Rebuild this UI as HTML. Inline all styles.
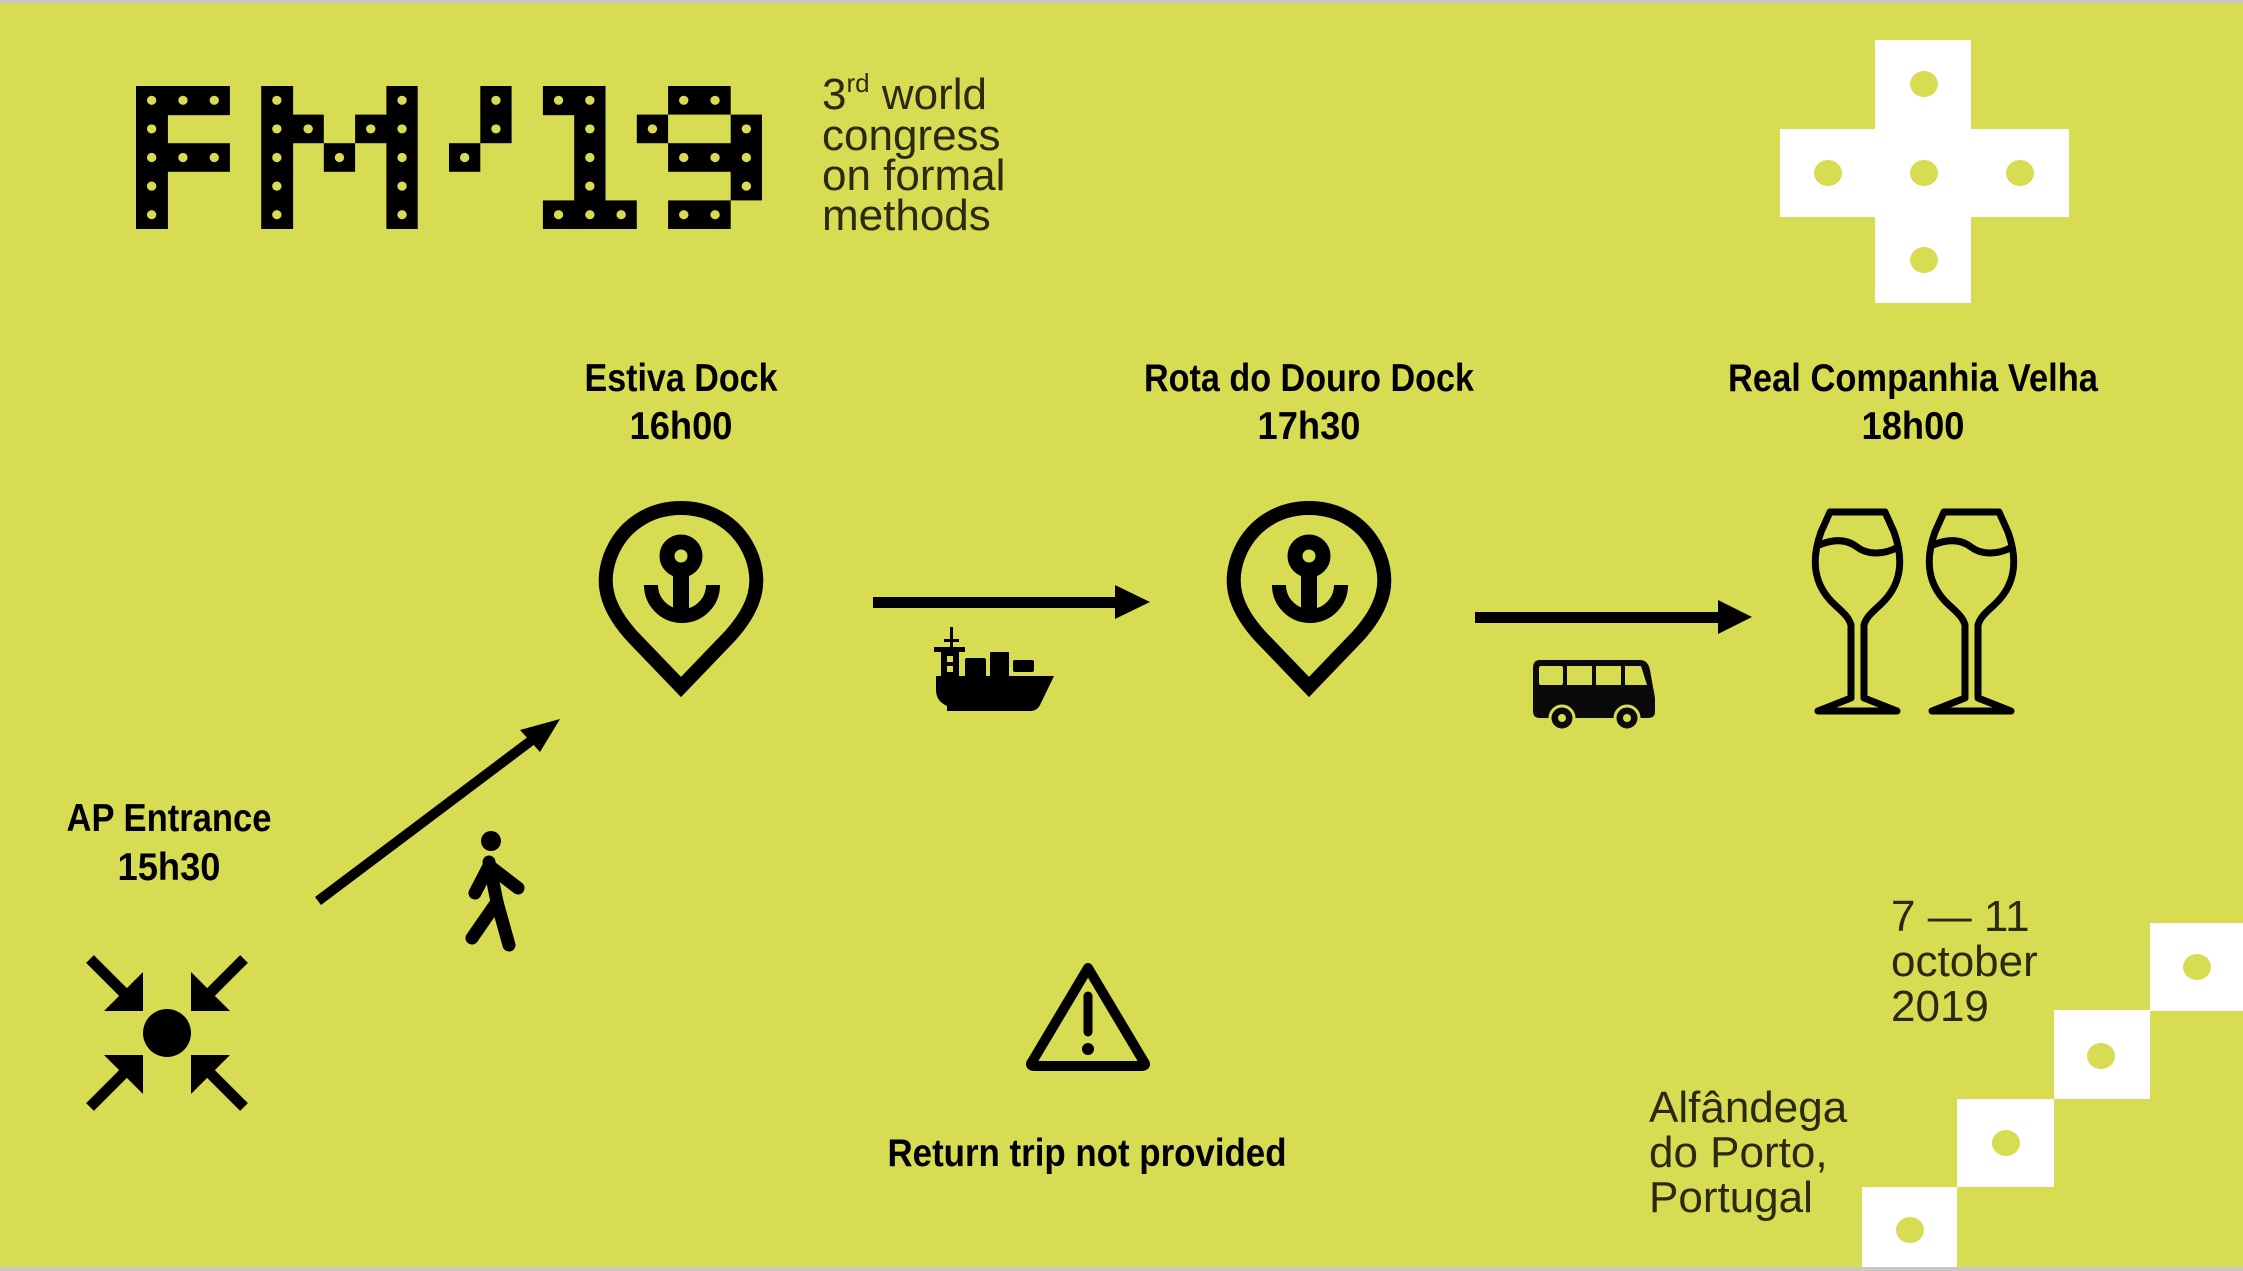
<!DOCTYPE html>
<html><head><meta charset="utf-8"><style>
html,body{margin:0;padding:0;}
body{width:2243px;height:1271px;overflow:hidden;background:#d8dc52;}
svg{display:block;}
.h{font-family:"Liberation Sans Narrow","Liberation Sans",sans-serif;font-weight:bold;font-size:39px;fill:#000;text-anchor:middle;}
.r{font-family:"Liberation Sans",sans-serif;font-size:44px;fill:#2a2a10;}
</style></head><body>
<svg width="2243" height="1271" viewBox="0 0 2243 1271" xmlns="http://www.w3.org/2000/svg">
<rect width="2243" height="1271" fill="#d8dc52"/>
<rect width="2243" height="3" fill="#c8c8c0"/>
<rect y="1267" width="2243" height="4" fill="#c8c8c0"/>

<!-- logo -->
<g transform="translate(136,86) scale(31.3,28.6)" fill="#000">
<g>
<rect x="0" y="0" width="1.02" height="5"/><rect x="0" y="0" width="3" height="1.02"/><rect x="0" y="2" width="3" height="1"/>
<rect x="4" y="0" width="1.02" height="5"/><rect x="8" y="0" width="1" height="5"/><rect x="5" y="1" width="1" height="1"/><rect x="7" y="1" width="1.02" height="1"/><rect x="6" y="2" width="1" height="1"/>
<rect x="11" y="0" width="1" height="2"/><rect x="10" y="2" width="1" height="1"/>
<rect x="13" y="0" width="2" height="1.02"/><rect x="14" y="0" width="1" height="5"/><rect x="13" y="4" width="3" height="1"/>
<rect x="17" y="0" width="2" height="1"/><rect x="16" y="1" width="1" height="1"/><rect x="19" y="1" width="1" height="3"/><rect x="17" y="2" width="3" height="1"/><rect x="17" y="4" width="2" height="1"/>
</g>
<g fill="#d8dc52">
<ellipse cx=".5" cy=".5" rx=".15" ry=".16"/><ellipse cx="1.5" cy=".5" rx=".15" ry=".16"/><ellipse cx="2.5" cy=".5" rx=".15" ry=".16"/>
<ellipse cx=".5" cy="1.5" rx=".15" ry=".16"/><ellipse cx=".5" cy="2.5" rx=".15" ry=".16"/><ellipse cx="1.5" cy="2.5" rx=".15" ry=".16"/><ellipse cx="2.5" cy="2.5" rx=".15" ry=".16"/><ellipse cx=".5" cy="3.5" rx=".15" ry=".16"/><ellipse cx=".5" cy="4.5" rx=".15" ry=".16"/>
<ellipse cx="4.5" cy=".5" rx=".15" ry=".16"/><ellipse cx="4.5" cy="1.5" rx=".15" ry=".16"/><ellipse cx="4.5" cy="2.5" rx=".15" ry=".16"/><ellipse cx="4.5" cy="3.5" rx=".15" ry=".16"/><ellipse cx="4.5" cy="4.5" rx=".15" ry=".16"/>
<ellipse cx="8.5" cy=".5" rx=".15" ry=".16"/><ellipse cx="8.5" cy="1.5" rx=".15" ry=".16"/><ellipse cx="8.5" cy="2.5" rx=".15" ry=".16"/><ellipse cx="8.5" cy="3.5" rx=".15" ry=".16"/><ellipse cx="8.5" cy="4.5" rx=".15" ry=".16"/>
<ellipse cx="5.5" cy="1.5" rx=".15" ry=".16"/><ellipse cx="7.5" cy="1.5" rx=".15" ry=".16"/><ellipse cx="6.5" cy="2.5" rx=".15" ry=".16"/>
<ellipse cx="11.5" cy=".5" rx=".15" ry=".16"/><ellipse cx="11.5" cy="1.5" rx=".15" ry=".16"/><ellipse cx="10.5" cy="2.5" rx=".15" ry=".16"/>
<ellipse cx="13.5" cy=".5" rx=".15" ry=".16"/><ellipse cx="14.5" cy=".5" rx=".15" ry=".16"/><ellipse cx="14.5" cy="1.5" rx=".15" ry=".16"/><ellipse cx="14.5" cy="2.5" rx=".15" ry=".16"/><ellipse cx="14.5" cy="3.5" rx=".15" ry=".16"/><ellipse cx="14.5" cy="4.5" rx=".15" ry=".16"/><ellipse cx="13.5" cy="4.5" rx=".15" ry=".16"/><ellipse cx="15.5" cy="4.5" rx=".15" ry=".16"/>
<ellipse cx="17.5" cy=".5" rx=".15" ry=".16"/><ellipse cx="18.5" cy=".5" rx=".15" ry=".16"/><ellipse cx="16.5" cy="1.5" rx=".15" ry=".16"/><ellipse cx="19.5" cy="1.5" rx=".15" ry=".16"/><ellipse cx="17.5" cy="2.5" rx=".15" ry=".16"/><ellipse cx="18.5" cy="2.5" rx=".15" ry=".16"/><ellipse cx="19.5" cy="2.5" rx=".15" ry=".16"/><ellipse cx="19.5" cy="3.5" rx=".15" ry=".16"/><ellipse cx="17.5" cy="4.5" rx=".15" ry=".16"/><ellipse cx="18.5" cy="4.5" rx=".15" ry=".16"/>
</g>
</g>
<text class="r" x="822" y="109">3<tspan font-size="26" dy="-17">rd</tspan><tspan dy="17"> world</tspan></text>
<text class="r" x="822" y="150">congress</text>
<text class="r" x="822" y="190">on formal</text>
<text class="r" x="822" y="230">methods</text>

<!-- top-right cross -->
<g fill="#fff"><rect x="1875" y="40" width="96" height="263"/><rect x="1780" y="129" width="289" height="88"/></g>
<g fill="#d8dc52"><ellipse cx="1924" cy="84" rx="14" ry="13"/><ellipse cx="1828" cy="173" rx="14" ry="13"/><ellipse cx="1924" cy="173" rx="14" ry="13"/><ellipse cx="2020" cy="173" rx="14" ry="13"/><ellipse cx="1924" cy="260" rx="14" ry="13"/></g>

<!-- bottom-right steps -->
<g fill="#fff"><rect x="2150" y="923" width="93" height="88"/><rect x="2054" y="1010" width="96" height="89"/><rect x="1957" y="1099" width="97" height="88"/><rect x="1862" y="1187" width="95" height="80"/></g>
<g fill="#d8dc52"><ellipse cx="2197" cy="967" rx="14" ry="13"/><ellipse cx="2101" cy="1056" rx="14" ry="13"/><ellipse cx="2006" cy="1143" rx="14" ry="13"/><ellipse cx="1910" cy="1230" rx="14" ry="13"/></g>
<text class="r" x="1891" y="931">7 — 11</text>
<text class="r" x="1891" y="976">october</text>
<text class="r" x="1891" y="1021">2019</text>
<text class="r" x="1649" y="1122">Alfândega</text>
<text class="r" x="1649" y="1167">do Porto,</text>
<text class="r" x="1649" y="1212">Portugal</text>

<!-- headings -->
<text class="h" x="681" y="391" textLength="193" lengthAdjust="spacingAndGlyphs">Estiva Dock</text><text class="h" x="681" y="439" textLength="103" lengthAdjust="spacingAndGlyphs">16h00</text>
<text class="h" x="1309" y="391" textLength="330" lengthAdjust="spacingAndGlyphs">Rota do Douro Dock</text><text class="h" x="1309" y="439" textLength="103" lengthAdjust="spacingAndGlyphs">17h30</text>
<text class="h" x="1913" y="391" textLength="370" lengthAdjust="spacingAndGlyphs">Real Companhia Velha</text><text class="h" x="1913" y="439" textLength="103" lengthAdjust="spacingAndGlyphs">18h00</text>
<text class="h" x="169" y="831" textLength="205" lengthAdjust="spacingAndGlyphs">AP Entrance</text><text class="h" x="169" y="880" textLength="103" lengthAdjust="spacingAndGlyphs">15h30</text>
<text class="h" x="1087" y="1166" textLength="399" lengthAdjust="spacingAndGlyphs">Return trip not provided</text>

<!-- pins -->
<g id="pin" fill="none" stroke="#000" stroke-width="14">
<path d="M681,687 L632,636 C605,606 601,582 610,557 C622,525 650,508 681,508 C712,508 740,525 752,557 C761,582 757,606 730,636 Z" stroke-linejoin="miter"/>
<circle cx="681" cy="556" r="14" stroke-width="15"/>
<line x1="681" y1="568" x2="681" y2="610" stroke-width="16"/>
<path d="M651,585 A31,31 0 0 0 713,585"/>
</g>
<use href="#pin" x="628" y="0"/>

<!-- arrows -->
<rect x="873" y="597" width="245" height="11" fill="#000"/>
<polygon points="1115,585 1150,602 1115,619" fill="#000"/>
<rect x="1475" y="612" width="246" height="11" fill="#000"/>
<polygon points="1718,600 1752,617 1718,634" fill="#000"/>
<line x1="318" y1="901" x2="536" y2="737" stroke="#000" stroke-width="10"/>
<polygon points="560,719 520,730 540,752" fill="#000"/>

<!-- ship -->
<g fill="#000">
<path d="M936,676 L1054,676 L1040,705 Q1037,711 1030,711 L947,711 L947,706 Q936,701 936,690 Z"/>
<rect x="941" y="649" width="18" height="29"/><rect x="934" y="647" width="31" height="5"/>
<rect x="950" y="627" width="3" height="22"/><rect x="944" y="639" width="15" height="3"/>
<rect x="965" y="658" width="21" height="20" rx="2"/><rect x="990" y="652" width="19" height="26" rx="1"/><rect x="1013" y="660" width="21" height="12" rx="2"/>
</g>
<g fill="#d8dc52"><rect x="947" y="656" width="6" height="6"/><rect x="947" y="666" width="6" height="6"/></g>

<!-- bus -->
<g>
<path d="M1540,660 L1640,660 Q1648,660 1650,670 L1655,698 L1655,712 Q1655,718 1648,718 L1540,718 Q1533,718 1533,711 L1533,668 Q1533,660 1540,660 Z" fill="#0a0a0a"/>
<g fill="#d8dc52"><rect x="1539" y="666" width="24" height="19" rx="2"/><rect x="1567" y="666" width="25" height="19"/><rect x="1596" y="666" width="25" height="19"/><path d="M1625,666 L1641,666 L1647,685 L1625,685 Z"/></g>
<circle cx="1562" cy="718" r="12" fill="#0a0a0a" stroke="#d8dc52" stroke-width="3"/><circle cx="1562" cy="718" r="4" fill="#d8dc52"/>
<circle cx="1627" cy="718" r="12" fill="#0a0a0a" stroke="#d8dc52" stroke-width="3"/><circle cx="1627" cy="718" r="4" fill="#d8dc52"/>
</g>

<!-- glasses -->
<g id="glass" fill="none" stroke="#000" stroke-width="7" stroke-linejoin="round">
<path d="M1830,512 L1885,512 L1894,532 C1904,560 1902,585 1880,605 C1870,614 1866,618 1864,625 L1864,698 L1897,711 L1818,711 L1851,698 L1851,625 C1849,618 1845,614 1835,605 C1813,585 1811,560 1821,532 Z"/>
<path d="M1819,545 C1836,538 1848,540 1857,547 C1866,554 1882,556 1898,547"/>
</g>
<use href="#glass" x="114" y="0"/>

<!-- walker -->
<g stroke="#000" stroke-width="13" stroke-linecap="round" fill="none">
<circle cx="491" cy="841" r="10" fill="#000" stroke="none"/>
<path d="M489,862 L497,902 L472,938"/>
<path d="M497,902 L509,945"/>
<path d="M489,866 L475,893"/>
<path d="M492,868 L518,888"/>
</g>

<!-- assembly point -->
<g fill="#000">
<circle cx="167" cy="1033" r="24"/>
<g stroke="#000" stroke-width="11"><line x1="90" y1="959" x2="126" y2="995"/><line x1="244" y1="959" x2="208" y2="995"/><line x1="90" y1="1107" x2="126" y2="1071"/><line x1="244" y1="1107" x2="208" y2="1071"/></g>
<polygon points="143,1011 143,972 104,1011"/>
<polygon points="191,1011 191,972 230,1011"/>
<polygon points="143,1055 143,1094 104,1055"/>
<polygon points="191,1055 191,1094 230,1055"/>
</g>

<!-- warning -->
<path d="M1088,968 L1032,1062 Q1029,1066 1035,1066 L1141,1066 Q1147,1066 1144,1062 Z" fill="none" stroke="#000" stroke-width="10" stroke-linejoin="round"/>
<line x1="1088" y1="996" x2="1088" y2="1032" stroke="#000" stroke-width="9" stroke-linecap="round"/>
<circle cx="1088" cy="1049" r="6" fill="#000"/>
</svg>
</body></html>
